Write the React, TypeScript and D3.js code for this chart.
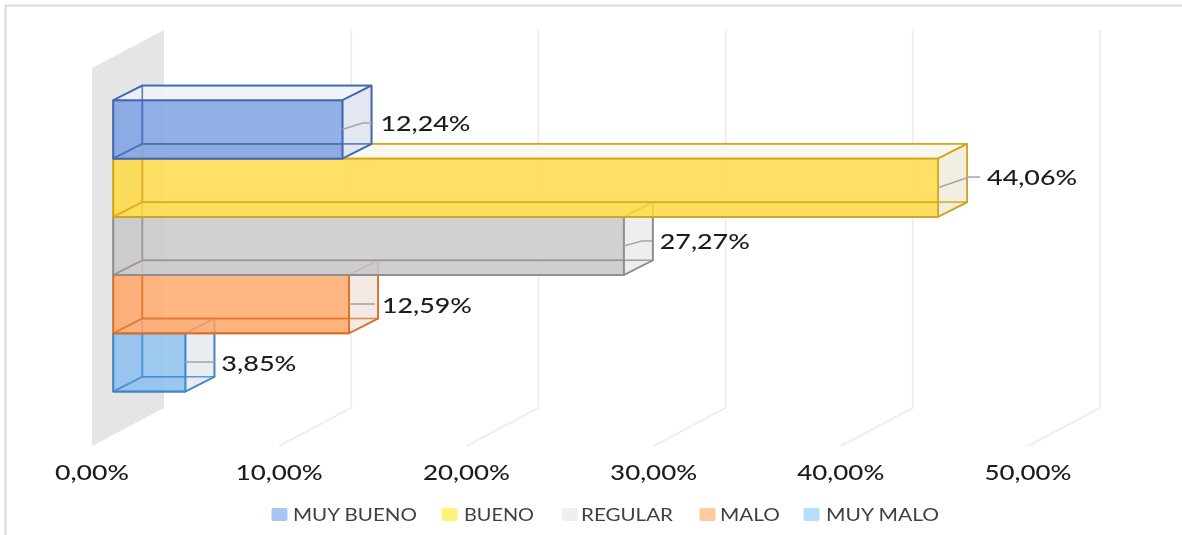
import React from "react";
import * as d3 from "d3";

const categories = ["MUY BUENO", "BUENO", "REGULAR", "MALO", "MUY MALO"];
const values = [12.24, 44.06, 27.27, 12.59, 3.85];
const valueLabels = ["12,24%", "44,06%", "27,27%", "12,59%", "3,85%"];
const ticks = [0, 10, 20, 30, 40, 50];
const tickLabels = ["0,00%", "10,00%", "20,00%", "30,00%", "40,00%", "50,00%"];
const fills = ["#7A9FE2", "#FFD942", "#C7C7C7", "#FFA565", "#89BFF0"];
const strokes = ["#4368B2", "#D2A51C", "#8F8F8F", "#D9702C", "#3F86C8"];
const sideFills = ["#E3E7F0", "#F1EEE0", "#EDEDED", "#F2EAE4", "#E8ECF0"];
const topFills = ["#F0F2F7", "#F9F6EC", "#F3F3F3", "#F7F1EC", "#F0F3F6"];
const swatches = ["#A9C5F3", "#FFF27A", "#EFEFEF", "#FFCB9C", "#B5E0FC"];

const W = 1182, H = 535;
const x = d3.scaleLinear().domain([0, 50]).range([92, 1028]);
const barX0 = 113.3;
const barX = d3.scaleLinear().domain([0, 50]).range([barX0, barX0 + 936]);
const y = d3.scaleBand<string>().domain(categories).range([100.3, 391.5]);
const wallDx = 72, wallDy = -38, wallTop = 68, wallBottom = 446;
const dx = 29, dy = -14.7;
const FONT = "Lato, 'Open Sans', sans-serif";

const labelY = [122, 176, 240, 304, 362];
const leaderY = [123, 177, 241, 304, 362];
const labelGap = [9, 20, 7, 4, 7];
const labelW = [90, 90, 90, 90, 75];
const tickW = [74, 87, 87, 87, 87, 87];
const legendLayout = [
  { sx: 272, tx: 293, tw: 124 },
  { sx: 442, tx: 464, tw: 70 },
  { sx: 562, tx: 581, tw: 92 },
  { sx: 700, tx: 720, tw: 60 },
  { sx: 804, tx: 826, tw: 113 },
];

const poly = (pts: number[][]) => pts.map((p) => p.join(",")).join(" ");

function Bar({ i }: { i: number }) {
  const c = categories[i];
  const x0 = barX(0), x1 = barX(values[i]);
  const y0 = y(c)!, y1 = y0 + y.bandwidth();
  const stroke = strokes[i], fill = fills[i];
  const line = { stroke, strokeWidth: 1.8, strokeLinejoin: "round" as const };
  const midY = (y0 + y1) / 2;
  const endX = x1 + dx;
  const ly = leaderY[i];
  const leaderEnd = endX + labelGap[i] - 7;
  const bent = Math.abs(ly - midY) > 1.5;
  const leader = bent
    ? `M${x1},${midY} L${leaderEnd - 11},${ly} L${leaderEnd},${ly}`
    : `M${x1},${ly} L${leaderEnd},${ly}`;
  const hidden = `M${x0},${y1} L${x0 + dx},${y1 + dy} L${x1 + dx},${y1 + dy} M${x0 + dx},${y1 + dy} L${x0 + dx},${y0 + dy}`;
  return (
    <g>
      <rect x={x0 + dx} y={y0 + dy} width={x1 - x0} height={y1 - y0} fill={topFills[i]} fillOpacity={0.45} {...line} />
      <polygon points={poly([[x0, y0], [x0 + dx, y0 + dy], [x0 + dx, y1 + dy], [x0, y1]])} fill={fill} fillOpacity={0.2} {...line} />
      <polygon points={poly([[x0, y1], [x1, y1], [x1 + dx, y1 + dy], [x0 + dx, y1 + dy]])} fill={fill} fillOpacity={0.25} {...line} />
      <polygon points={poly([[x0, y0], [x1, y0], [x1 + dx, y0 + dy], [x0 + dx, y0 + dy]])} fill={topFills[i]} fillOpacity={0.9} {...line} />
      <polygon points={poly([[x1, y0], [x1 + dx, y0 + dy], [x1 + dx, y1 + dy], [x1, y1]])} fill={sideFills[i]} fillOpacity={0.95} {...line} />
      <rect x={x0} y={y0} width={x1 - x0} height={y1 - y0} fill={fill} fillOpacity={0.8} {...line} />
      <path d={hidden} fill="none" stroke={stroke} strokeWidth={1.6} strokeOpacity={0.8} />
      <path d={leader} fill="none" stroke="#A6A6A6" strokeWidth={1.6} />
    </g>
  );
}

export default function App() {
  return (
    <svg width={W} height={H} viewBox={`0 0 ${W} ${H}`} style={{ position: "absolute", left: 0, top: 0, background: "#fff", display: "block" }}>
      <defs>
        <filter id="soft" x="-2%" y="-2%" width="104%" height="104%">
          <feGaussianBlur stdDeviation="0.45" />
        </filter>
      </defs>
      <path d={`M5.5,${H} L5.5,5.5 L${W},5.5`} fill="none" stroke="#D9D9D9" strokeWidth={2} />
      <g filter="url(#soft)">
        <polygon
          points={poly([[x(0), wallTop], [x(0) + wallDx, wallTop + wallDy], [x(0) + wallDx, wallBottom + wallDy], [x(0), wallBottom]])}
          fill="#E5E5E5"
        />
        {ticks.slice(1).map((t) => (
          <path
            key={t}
            d={`M${x(t)},${wallBottom} L${x(t) + wallDx},${wallBottom + wallDy} L${x(t) + wallDx},${wallTop + wallDy}`}
            fill="none"
            stroke="#EFEFEF"
            strokeWidth={2}
          />
        ))}
        {categories.map((_, i) => categories.length - 1 - i).map((i) => (
          <Bar key={i} i={i} />
        ))}
        {valueLabels.map((t, i) => (
          <text
            key={t}
            x={barX(values[i]) + dx + labelGap[i]}
            y={labelY[i]}
            dominantBaseline="central"
            fontFamily={FONT}
            fontSize={21}
            fontWeight={500}
            fill="#1f1f1f"
            textLength={labelW[i]}
            lengthAdjust="spacingAndGlyphs"
          >
            {t}
          </text>
        ))}
        {tickLabels.map((t, i) => (
          <text
            key={t}
            x={x(ticks[i])}
            y={471.5}
            textAnchor="middle"
            dominantBaseline="central"
            fontFamily={FONT}
            fontSize={21}
            fontWeight={500}
            fill="#1f1f1f"
            textLength={tickW[i]}
            lengthAdjust="spacingAndGlyphs"
          >
            {t}
          </text>
        ))}
        {categories.map((c, i) => (
          <g key={c}>
            <rect x={legendLayout[i].sx} y={508.5} width={15} height={12} rx={1} fill={swatches[i]} stroke={swatches[i]} strokeWidth={1} />
            <text
              x={legendLayout[i].tx}
              y={514}
              dominantBaseline="central"
              fontFamily={FONT}
              fontSize={17}
              fill="#404040"
              textLength={legendLayout[i].tw}
              lengthAdjust="spacingAndGlyphs"
            >
              {c}
            </text>
          </g>
        ))}
      </g>
    </svg>
  );
}
